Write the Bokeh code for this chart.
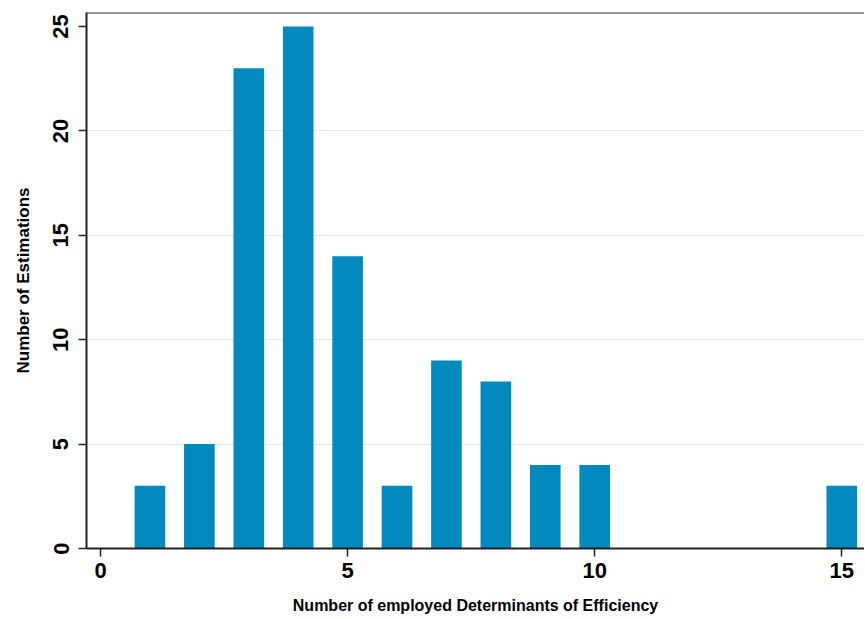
from bokeh.plotting import figure
from bokeh.models import Range1d, FixedTicker, Span
from bokeh.embed import file_html
from bokeh.resources import INLINE

# data
determinants = [1, 2, 3, 4, 5, 6, 7, 8, 9, 10, 15]
estimations = [3, 5, 23, 25, 14, 3, 9, 8, 4, 4, 3]
x_ticks = [0, 5, 10, 15]
y_ticks = [0, 5, 10, 15, 20, 25]
y_grid = [5, 10, 15, 20]

FONT = "Liberation Sans"
BAR = "#0289bd"

p = figure(width=864, height=617, output_backend="svg", toolbar_location=None,
           x_range=Range1d(-0.284, 15.46), y_range=Range1d(0, 25.67),
           min_border_left=86, min_border_right=0, min_border_top=12,
           min_border_bottom=69)
p.outline_line_color = None
p.background_fill_color = "white"
p.border_fill_color = "white"

p.vbar(x=determinants, top=estimations, width=0.62, bottom=0,
       fill_color=BAR, line_color=None)

top_line = Span(location=25.67, dimension="width", line_color="#333333", line_width=2)
p.add_layout(top_line)

p.xgrid.visible = False
p.ygrid.ticker = FixedTicker(ticks=y_grid)
p.ygrid.grid_line_color = "#e6e6e6"
p.ygrid.grid_line_width = 1

for ax in (p.xaxis, p.yaxis):
    ax.axis_line_color = "#222222"
    ax.axis_line_width = 2
    ax.major_tick_line_color = "#222222"
    ax.major_tick_line_width = 1.5
    ax.major_tick_out = 8
    ax.major_tick_in = 0
    ax.minor_tick_line_color = None
    ax.major_label_text_font = FONT
    ax.major_label_text_font_size = "22px"
    ax.major_label_text_font_style = "bold"
    ax.major_label_text_color = "black"
    ax.axis_label_text_font = FONT
    ax.axis_label_text_font_style = "bold"
    ax.axis_label_text_color = "black"

p.xaxis.ticker = FixedTicker(ticks=x_ticks)
p.yaxis.ticker = FixedTicker(ticks=y_ticks)
p.yaxis.major_label_orientation = "vertical"
p.yaxis.major_label_standoff = 10
p.xaxis.major_label_standoff = 6

p.xaxis.axis_label = "Number of employed Determinants of Efficiency"
p.yaxis.axis_label = "Number of Estimations"
p.xaxis.axis_label_text_font_size = "16px"
p.yaxis.axis_label_text_font_size = "17px"
p.xaxis.axis_label_standoff = 16
p.yaxis.axis_label_standoff = 18

open("out.html", "w").write(file_html(p, INLINE))
